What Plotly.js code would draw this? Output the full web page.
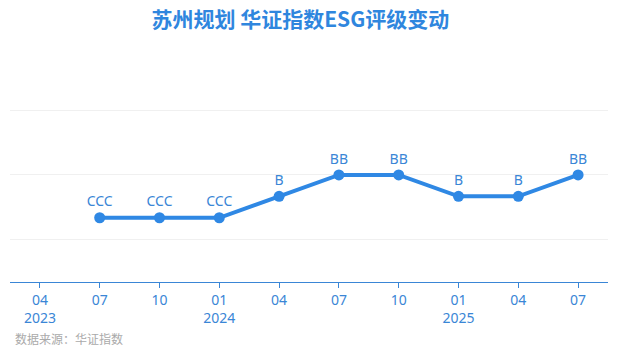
<!DOCTYPE html>
<html>
<head>
<meta charset="utf-8">
<script src="https://cdn.plot.ly/plotly-3.0.1.min.js"></script>
<style>html,body{margin:0;padding:0;background:#fff;}#chart{width:618px;height:355px;}</style>
</head>
<body>
<div id="chart"></div>
<script>
// Category axis (quarter months, with year shown on first quarter of year)
const categories = ["2023-04","2023-07","2023-10","2024-01","2024-04","2024-07","2024-10","2025-01","2025-04","2025-07"];
const tickLabels = ["04<br>2023","07","10","01<br>2024","04","07","10","01<br>2025","04","07"];
// Rating scale (ordinal)
const ratingScale = ["C","CC","CCC","B","BB","BBB","A","AA","AAA"];
// Series: rating per quarter (null = no rating)
const ratings = [null,"CCC","CCC","CCC","B","BB","BB","B","B","BB"];
const gridLevels = ["CC","BB","AA"];

const lvl = r => r === null ? null : ratingScale.indexOf(r) + 1;
const yVals = ratings.map(lvl);

const blue = "#2f88e4";
const trace = {
  x: categories,
  y: yVals,
  type: "scatter",
  mode: "lines+markers+text",
  text: ratings.map(r => r === null ? "" : r),
  textposition: "top center",
  textfont: {family: "Noto Sans, sans-serif", size: 14, color: "#3a86d6"},
  line: {color: blue, width: 4},
  marker: {color: blue, size: 11},
  connectgaps: false,
  hoverinfo: "skip",
  cliponaxis: false
};

const layout = {
  width: 618, height: 355,
  margin: {l: 10, r: 10, t: 100, b: 73},
  paper_bgcolor: "#fff", plot_bgcolor: "#fff",
  showlegend: false,
  title: {
    text: "<b>苏州规划 华证指数ESG评级变动</b>",
    font: {family: "Noto Sans CJK SC, sans-serif", size: 21, color: "#2f86de"},
    x: 0.486, xanchor: "center", xref: "container",
    y: 0.944, yanchor: "middle", yref: "container"
  },
  xaxis: {
    type: "category",
    categoryorder: "array",
    categoryarray: categories,
    tickvals: categories,
    ticktext: tickLabels,
    range: [-0.5, 9.5],
    showgrid: false,
    zeroline: false,
    showline: true,
    linecolor: "#3a86d6",
    linewidth: 1,
    ticks: "outside",
    ticklen: 5,
    tickcolor: "#3a86d6",
    tickfont: {family: "Noto Sans, sans-serif", size: 14, color: "#3a86d6"},
    fixedrange: true
  },
  yaxis: {
    range: [0, 8.5],
    tickvals: gridLevels.map(lvl),
    showticklabels: false,
    showgrid: true,
    gridcolor: "#f0f0f0",
    gridwidth: 1,
    zeroline: false,
    showline: false,
    fixedrange: true
  },
  annotations: [{
    text: "数据来源：华证指数",
    xref: "paper", yref: "paper",
    x: 0, y: 0, xshift: 3, yshift: -56,
    xanchor: "left", yanchor: "middle",
    showarrow: false,
    font: {family: "Noto Sans CJK SC, sans-serif", size: 12, color: "#aaaaaa"}
  }]
};

Plotly.newPlot("chart", [trace], layout, {displayModeBar: false, staticPlot: true});
</script>
</body>
</html>
